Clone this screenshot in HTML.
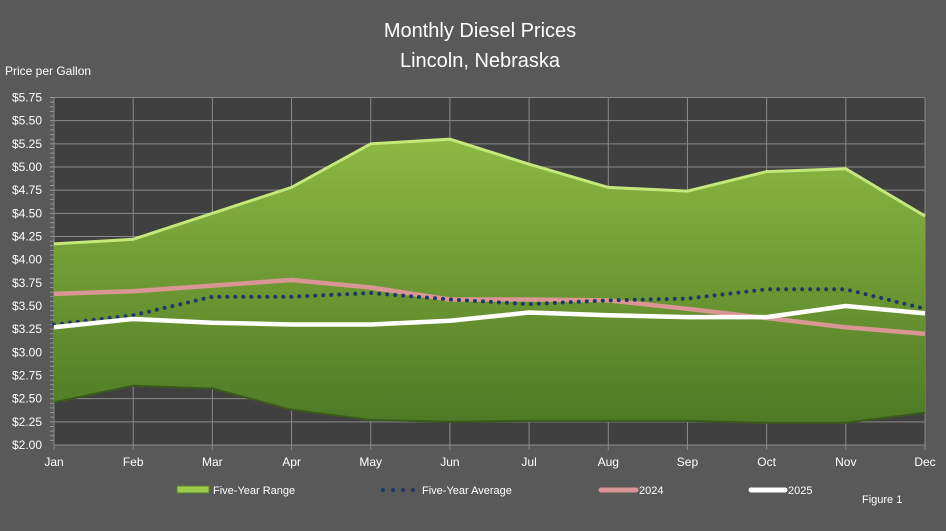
<!DOCTYPE html>
<html><head><meta charset="utf-8"><style>
html,body{margin:0;padding:0;background:#595959;}
svg{display:block;font-family:"Liberation Sans",sans-serif;}
</style></head><body>
<svg id="c" width="946" height="531" viewBox="0 0 946 531" xmlns="http://www.w3.org/2000/svg">
<defs>
<linearGradient id="g" x1="0" y1="0" x2="0" y2="1">
<stop offset="0" stop-color="#8db843"/><stop offset="1" stop-color="#4e7a25"/>
</linearGradient>
</defs>
<rect width="946" height="531" fill="#595959"/>
<rect x="54" y="97.5" width="871" height="347.5" fill="#404040"/>
<g id="grid"></g>
<g id="series"></g>
<text x="480" y="37" font-size="20" fill="#fff" text-anchor="middle">Monthly Diesel Prices</text>
<text x="480" y="67" font-size="20" fill="#fff" text-anchor="middle">Lincoln, Nebraska</text>
<text x="5" y="75" font-size="12" fill="#fff">Price per Gallon</text>
<g font-size="11" fill="#fff">
<rect x="177" y="486" width="32" height="7" fill="#9ccc4a" stroke="#5a7f2a"/>
<text x="213" y="494">Five-Year Range</text>
<g fill="#1f3864"><circle cx="383" cy="490" r="2"/><circle cx="393" cy="490" r="2"/><circle cx="403" cy="490" r="2"/><circle cx="413" cy="490" r="2"/></g>
<text x="422" y="494">Five-Year Average</text>
<line x1="601" y1="490" x2="636" y2="490" stroke="#d99694" stroke-width="5" stroke-linecap="round"/>
<text x="639" y="494">2024</text>
<line x1="751" y1="490" x2="785" y2="490" stroke="#fff" stroke-width="5" stroke-linecap="round"/>
<text x="788" y="494">2025</text>
<text x="862" y="503">Figure 1</text>
</g>
</svg>
<script>
var X0=54,DX=871/11,Y0=445,K=92.67;
function X(i){return X0+i*DX}function Y(v){return Y0-(v-2)*K}
var grid=document.getElementById('grid'),s='';
for(var j=0;j<=15;j++){var v=2+j*0.25,y=Y(v);s+='<line x1="54" x2="925" y1="'+y+'" y2="'+y+'" stroke="#8a8a8a" stroke-width="1"/>';
s+='<text x="42" y="'+(y+4)+'" font-size="12" fill="#fff" text-anchor="end">$'+v.toFixed(2)+'</text>';}
for(var j=1;j<=15*5;j++){var y=Y(2+j*0.05);s+='<line x1="50" x2="54" y1="'+y+'" y2="'+y+'" stroke="#999"/>';}
var m=['Jan','Feb','Mar','Apr','May','Jun','Jul','Aug','Sep','Oct','Nov','Dec'];
for(var i=0;i<12;i++){var x=X(i);s+='<line x1="'+x+'" x2="'+x+'" y1="97.5" y2="450" stroke="#8a8a8a"/>';
s+='<text x="'+x+'" y="466" font-size="12" fill="#fff" text-anchor="middle">'+m[i]+'</text>';}
grid.innerHTML=s;
var up=[4.17,4.22,4.50,4.78,5.25,5.30,5.03,4.78,4.74,4.95,4.98,4.47];
var lo=[2.46,2.64,2.61,2.38,2.27,2.25,2.26,2.26,2.26,2.24,2.24,2.35];
var av=[3.30,3.40,3.60,3.60,3.64,3.57,3.52,3.56,3.58,3.68,3.68,3.47];
var a24=[3.63,3.66,3.72,3.78,3.70,3.57,3.57,3.56,3.47,3.37,3.27,3.20];
var a25=[3.27,3.36,3.32,3.30,3.30,3.34,3.43,3.40,3.38,3.38,3.50,3.42];
function pts(a){return a.map(function(v,i){return X(i).toFixed(1)+','+Y(v).toFixed(1)}).join(' ')}
var poly=pts(up)+' '+lo.slice().reverse().map(function(v,k){var i=11-k;return X(i).toFixed(1)+','+Y(v).toFixed(1)}).join(' ');
var t='<polygon points="'+poly+'" fill="url(#g)"/>';
t+='<polyline points="'+pts(up)+'" fill="none" stroke="#c4e87a" stroke-width="3"/>';
t+='<polyline points="'+pts(lo)+'" fill="none" stroke="#3a5a1c" stroke-width="2"/>';
t+='<polyline points="'+pts(a24)+'" fill="none" stroke="#d99694" stroke-width="4.5" stroke-linejoin="round"/>';
t+='<polyline points="'+pts(av)+'" fill="none" stroke="#1f3864" stroke-width="4" stroke-dasharray="0 8" stroke-linecap="round"/>';
t+='<polyline points="'+pts(a25)+'" fill="none" stroke="#fff" stroke-width="4.5" stroke-linejoin="round"/>';
document.getElementById('series').innerHTML=t;
</script>
</body></html>
